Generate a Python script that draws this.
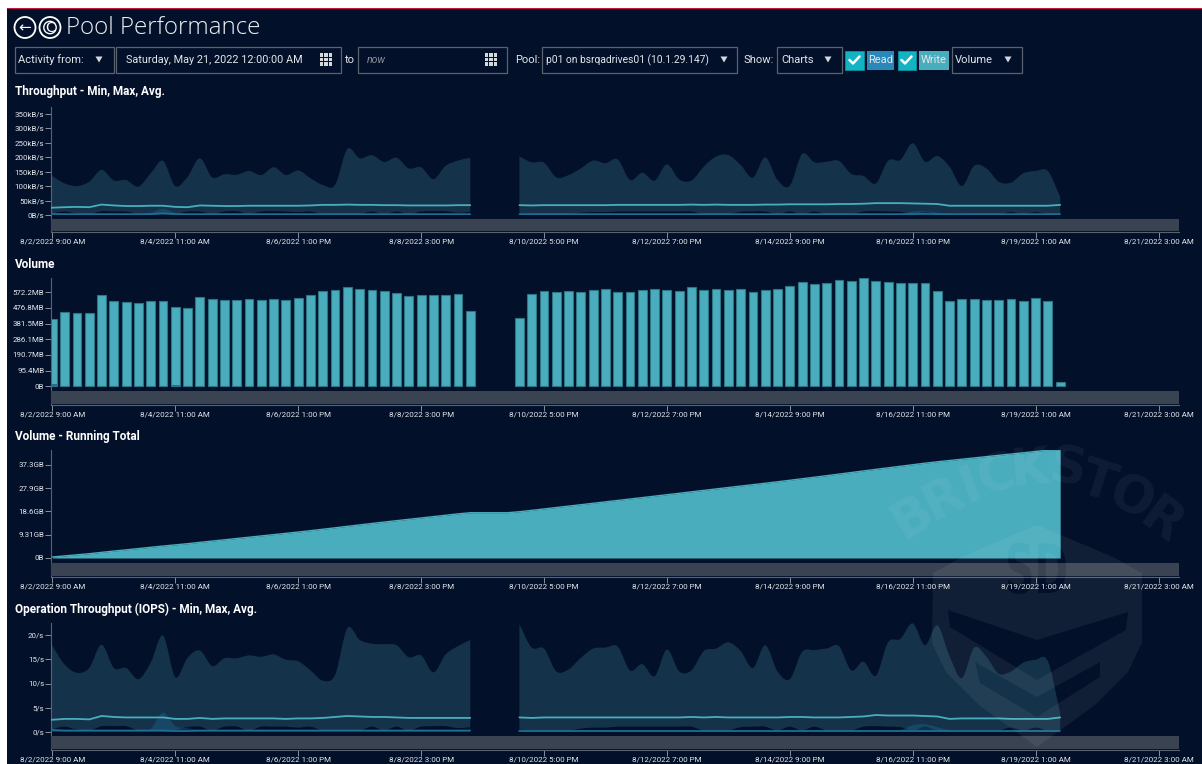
import numpy as np, pandas as pd, matplotlib
matplotlib.use("Agg")
import matplotlib.pyplot as plt, seaborn as sns
from matplotlib.path import Path
from matplotlib.patches import PathPatch, Rectangle, Circle, Polygon
from matplotlib.textpath import TextPath
from matplotlib.font_manager import FontProperties
from matplotlib.transforms import Affine2D

tick_labels = ["8/2/2022 9:00 AM","8/4/2022 11:00 AM","8/6/2022 1:00 PM","8/8/2022 3:00 PM","8/10/2022 5:00 PM",
               "8/12/2022 7:00 PM","8/14/2022 9:00 PM","8/16/2022 11:00 PM","8/19/2022 1:00 AM","8/21/2022 3:00 AM"]
tick_hours = [0,50,100,150,200,250,300,350,400,450]
sample_left = list(range(0,35))
sample_right = list(range(38,83))
hours_per_sample = 5

tp_max_left = [138,109,100,115,156,119,121,98,144,187,100,132,196,130,141,139,152,138,165,138,154,127,104,104,228,196,207,183,198,161,165,124,170,188,198]
tp_max_right = [202,182,181,130,138,161,188,179,192,121,146,119,175,123,119,167,202,207,173,129,199,121,101,211,182,184,187,142,135,109,188,190,248,184,204,167,100,170,161,115,112,144,152,152,63]
tp_avg_left = [25,27,28,27,36,33,31,31,32,32,28,27,33,32,31,31,32,32,32,32,32,33,35,35,36,35,35,34,34,33,33,33,33,34,34]
tp_avg_right = [34,33,34,34,34,34,34,34,35,35,35,35,35,35,36,35,36,35,35,35,36,36,37,37,37,37,38,38,39,41,41,41,40,39,38,32,32,32,32,32,32,32,32,32,35]
tp_min_left = [6,12,5,3,13,12,12,4,3,3,4,12,12,4,12,13,4,12,13,12,10,12,3,3,3,3,12,3,12,3,12,13,13,8,11]
tp_min_right = [6,3,3,3,3,8,10,10,12,12,12,12,12,12,12,3,3,3,11,12,12,3,12,3,12,3,3,3,12,13,12,11,3,12,3,3,3,3,3,3,10,3,10,3,3]
tp_read_max_left = [10,4,4,4,4,4,4,4,8,22,8,4,4,4,4,4,4,4,4,4,4,4,4,4,4,4,4,4,4,4,4,4,4,4,4]
tp_read_max_right = [4,4,4,4,4,4,4,4,4,4,4,4,4,4,4,4,4,4,4,4,4,4,4,4,4,4,4,4,4,4,4,4,12,14,8,4,4,4,4,4,4,4,4,4,4]
tp_read_avg_left = [4,3,3,3,3,3,3,3,3,6,3,3,3,3,3,3,3,3,3,3,3,3,3,3,3,3,3,3,3,3,3,3,3,3,3]
tp_read_avg_right = [3,3,3,3,3,3,3,3,3,3,3,3,3,3,3,3,3,3,3,3,3,3,3,3,3,3,3,3,3,3,3,3,3,4,3,3,3,3,3,3,3,3,3,3,3]

volume_left = [410,452,448,448,554,521,513,507,521,517,481,477,544,532,525,525,532,525,530,525,540,554,580,586,603,594,586,580,566,550,554,558,558,562,459]
volume_right = [414,562,580,576,580,572,586,590,576,576,586,590,586,580,603,586,594,586,590,576,586,590,613,635,621,631,649,639,657,639,635,631,631,631,580,517,530,530,525,525,530,521,536,521,26]
volume_read_left = [14,1,1,1,1,1,1,1,1,1,5,3,1,1,1,1,1,1,1,1,1,1,1,1,1,1,1,1,1,1,1,1,1,1,1]

iops_max_left = [18.4,13.9,12.2,13.2,18,13.2,13.2,10.9,14.3,19.9,11.3,15.3,16.8,13.6,15.2,15.2,15.8,15.5,16,14.9,14.6,12.7,10.6,11.8,21.4,19,18.2,18.1,17.9,15.4,15.8,12.3,16,17.7,19]
iops_max_right = [22.2,17.4,17.2,12.5,12.9,15.3,17.2,17.4,17.6,12.7,14,11.5,17,12.5,12.7,16.7,17.2,18.5,16.7,13.2,17.9,12.5,10.9,16.5,16.9,17.2,17.7,12.7,14.5,11.6,18.5,19.2,22.4,17.9,22,15.6,11.1,17.4,15.5,12,12.5,14.3,14.9,14.6,3.9]
iops_avg_left = [2.5,2.7,2.7,2.6,3.3,3.1,3.0,3.0,3.0,3.0,2.7,2.7,2.9,2.7,2.8,2.8,2.8,2.8,2.8,2.7,2.8,2.8,2.9,3.1,3.3,3.2,3.1,3.1,3.0,2.9,2.9,2.9,2.9,2.9,2.9]
iops_avg_right = [3.0,2.9,3.0,3.0,3.0,3.0,3.0,3.0,3.0,3.0,3.0,3.0,3.0,3.0,3.1,3.0,3.1,3.0,3.0,3.0,3.0,3.0,3.1,3.1,3.0,3.0,3.0,3.1,3.2,3.5,3.4,3.4,3.4,3.3,3.2,2.7,2.8,2.8,2.8,2.8,2.7,2.7,2.7,2.7,3.0]
iops_min_left = [0.5,1.1,0.5,0.3,1.2,1.2,1.2,0.3,0.2,0.3,0.4,1.0,1.1,0.3,1.1,1.1,0.3,1.1,1.1,1.1,0.9,1.1,0.3,0.3,0.3,0.3,1.1,0.3,1.1,0.3,1.1,1.2,1.2,0.8,1.0]
iops_min_right = [0.5,0.3,0.3,0.3,0.3,0.7,0.9,0.9,1.1,1.1,1.1,1.1,1.1,1.1,1.1,0.3,0.3,0.3,1.0,1.1,1.1,0.3,1.1,0.3,1.1,0.3,0.3,0.3,1.1,1.2,1.1,1.0,0.3,1.1,0.3,0.3,0.3,0.3,0.3,0.3,0.9,0.3,0.9,0.3,0.3]
iops_read_max_left = [0.8,0.4,0.4,0.4,0.4,0.4,0.4,0.4,0.6,4.0,1.2,0.8,0.4,0.4,0.4,0.4,0.4,0.4,0.4,0.4,0.4,0.4,0.4,0.4,0.4,0.4,0.4,0.4,0.4,0.4,0.4,0.4,0.4,0.4,0.4]
iops_read_max_right = [0.4,0.4,0.4,0.4,0.4,0.4,0.4,0.4,0.4,0.4,0.4,0.4,0.4,0.4,0.4,0.4,0.4,0.4,0.4,0.4,0.4,0.4,0.4,0.4,0.4,0.4,0.4,0.4,0.4,0.4,0.4,0.4,1.4,1.6,1.0,0.4,0.4,0.4,0.4,0.4,0.4,0.4,0.4,0.4,0.4]
iops_read_avg_left = [0.4,0.3,0.3,0.3,0.3,0.3,0.3,0.3,0.3,0.3,0.2,0.2,0.3,0.3,0.3,0.3,0.3,0.3,0.3,0.3,0.3,0.3,0.3,0.3,0.3,0.3,0.3,0.3,0.3,0.3,0.3,0.3,0.3,0.3,0.3]
iops_read_avg_right = [0.3]*45

y_ticks_tp = [0,50,100,150,200,250,300,350]
y_labels_tp = ["0B/s","50kB/s","100kB/s","150kB/s","200kB/s","250kB/s","300kB/s","350kB/s"]
y_ticks_vol = [0,95.4,190.7,286.1,381.5,476.8,572.2]
y_labels_vol = ["0B","95.4MB","190.7MB","286.1MB","381.5MB","476.8MB","572.2MB"]
y_ticks_tot = [0,9.31,18.6,27.9,37.3]
y_labels_tot = ["0B","9.31GB","18.6GB","27.9GB","37.3GB"]
y_ticks_iops = [0,5,10,15,20]
y_labels_iops = ["0/s","5/s","10/s","15/s","20/s"]

BG="#02102a"; TEAL="#4aadbd"; BAND="#14334a"; READ="#1f6f96"; NAV="#3a4352"; TXT="#e4e7eb"; BOX="#5a6270"
W,H=1202,764
sns.set_theme(style="dark", rc={"axes.facecolor":"none","figure.facecolor":BG,"savefig.facecolor":BG})
plt.rcParams["font.family"]=["Roboto","DejaVu Sans"]
fig=plt.figure(figsize=(W/100,H/100),dpi=100)

X0,X1=50.5,1178.5
PX_H=2.458
xlim=((X0-52.4)/PX_H,(X1-52.4)/PX_H)

def make_axes(top,bottom,zero,px_per_unit,ticks,labels):
    ax=fig.add_axes([X0/W,1-bottom/H,(X1-X0)/W,(bottom-top)/H],zorder=1)
    ax.set_xlim(*xlim)
    ax.set_ylim((zero-bottom)/px_per_unit,(zero-top)/px_per_unit)
    return ax

def finish(ax,ticks,labels):
    ax.set_xlim(*xlim)
    ax.set_xticks(tick_hours); ax.set_xticklabels(tick_labels)
    ax.set_yticks(ticks); ax.set_yticklabels(labels)
    ax.set_xlabel(""); ax.set_ylabel(""); ax.grid(False)
    for s in ("top","right"): ax.spines[s].set_visible(False)
    ax.spines["left"].set_color("#5a6270"); ax.spines["left"].set_linewidth(.8)
    ax.spines["bottom"].set_color("#5a6270"); ax.spines["bottom"].set_linewidth(.8)
    ax.tick_params(axis="x",length=4,width=.7,color="#8a909a",labelsize=5.8,labelcolor=TXT,pad=.8,bottom=True)
    ax.tick_params(axis="y",length=4,width=.7,color="#8a909a",labelsize=5.7,labelcolor=TXT,pad=0.5,left=True)

def curve(x,y):
    x=np.asarray(x,float); y=np.asarray(y,float); n=len(x)
    m=np.gradient(y,x)
    v=[];
    for i in range(n-1):
        d=(x[i+1]-x[i])/3
        v+= [(x[i]+d,y[i]+m[i]*d),(x[i+1]-d,y[i+1]-m[i+1]*d),(x[i+1],y[i+1])]
    return v

def band(ax,x,upper,lower,**kw):
    up=curve(x,upper); lo=curve(x[::-1],lower[::-1])
    verts=[(x[0],upper[0])]+up+[(x[-1],lower[-1])]+lo+[(x[0],lower[0])]
    codes=[Path.MOVETO]+[Path.CURVE4]*len(up)+[Path.LINETO]+[Path.CURVE4]*len(lo)+[Path.LINETO]
    ax.add_patch(PathPatch(Path(verts,codes),lw=0,**kw))

def area_x(samples):
    xs=[s*hours_per_sample for s in samples]
    if xs[0]==0: xs[0]=xlim[0]
    return xs

def perf_chart(ax,mx,mn,avg,rmax,ravg,ticks,labels):
    for k,s in enumerate((sample_left,sample_right)):
        xs=area_x(s)
        band(ax,xs,mx[k],mn[k],facecolor=BAND,zorder=2)
        band(ax,xs,rmax[k],[0]*len(xs),facecolor="#1f6f96",alpha=.35,zorder=3)
    rows=[]
    for k,s in enumerate((sample_left,sample_right)):
        xs=area_x(s)
        rows.append(pd.DataFrame({"hour":xs,"avg":avg[k],"read":ravg[k],"seg":k}))
    df=pd.concat(rows)
    sns.lineplot(data=df,x="hour",y="read",units="seg",estimator=None,color=READ,lw=1.2,ax=ax,zorder=4)
    sns.lineplot(data=df,x="hour",y="avg",units="seg",estimator=None,color=TEAL,lw=1.3,ax=ax,zorder=5)
    finish(ax,ticks,labels)

# Throughput
ax1=make_axes(107,232,215,14.47/50,y_ticks_tp,y_labels_tp)
yl=ax1.get_ylim()
perf_chart(ax1,(tp_max_left,tp_max_right),(tp_min_left,tp_min_right),(tp_avg_left,tp_avg_right),
           (tp_read_max_left,tp_read_max_right),(tp_read_avg_left,tp_read_avg_right),y_ticks_tp,y_labels_tp)
ax1.set_ylim(*yl)

# Volume
ax2=make_axes(278,404.5,386.3,15.67/95.37,y_ticks_vol,y_labels_vol)
yl=ax2.get_ylim()
bar_hours=[s*hours_per_sample for s in sample_left+sample_right]
vol=volume_left+volume_right
sns.barplot(x=bar_hours,y=vol,native_scale=True,width=.72,color=TEAL,saturation=1,edgecolor="#2c7585",linewidth=.8,ax=ax2)
read_vol=volume_read_left+[1]*len(volume_right)
sns.barplot(x=bar_hours,y=read_vol,native_scale=True,width=.72,color=READ,saturation=1,linewidth=0,ax=ax2)
finish(ax2,y_ticks_vol,y_labels_vol); ax2.set_ylim(*yl)

# Running total
ax3=make_axes(450,577,558,23.3/9.31,y_ticks_tot,y_labels_tot)
yl=ax3.get_ylim()
all_s=list(range(0,83))
per_sample=dict(zip(sample_left+sample_right,vol))
tot=np.cumsum([per_sample.get(s,0) for s in all_s])/1024
all_h=[s*hours_per_sample for s in all_s]
ax3.fill_between(all_h,0,tot,color=TEAL,lw=0,zorder=2)
sns.lineplot(x=all_h,y=tot,color=TEAL,lw=1,ax=ax3,zorder=3)
finish(ax3,y_ticks_tot,y_labels_tot); ax3.set_ylim(*yl)

# IOPS
ax4=make_axes(623,749.5,732,4.85,y_ticks_iops,y_labels_iops)
yl=ax4.get_ylim()
perf_chart(ax4,(iops_max_left,iops_max_right),(iops_min_left,iops_min_right),(iops_avg_left,iops_avg_right),
           (iops_read_max_left,iops_read_max_right),(iops_read_avg_left,iops_read_avg_right),y_ticks_iops,y_labels_iops)
ax4.set_ylim(*yl)

# page overlay in pixel coordinates
ui=fig.add_axes([0,0,1,1],zorder=10); ui.set_xlim(0,W); ui.set_ylim(H,0); ui.axis("off"); ui.patch.set_alpha(0)
for top,bot in ((218.7,231),(391,404),(563,576),(736,749)):
    ui.add_patch(Rectangle((X0,top),X1-X0,bot-top,fc=NAV,ec="none",zorder=2))
ui.add_patch(Rectangle((0,0),W,8,fc="white",ec="none",zorder=20))
ui.add_patch(Rectangle((0,8),W,1.2,fc="#c2153f",ec="none",zorder=20))
ui.add_patch(Rectangle((0,0),7,H,fc="white",ec="none",zorder=20))

def T(x,y,s,size=8.0,color=TXT,ha="left",**kw):
    ui.text(x,y+.5,s,fontsize=size,color=color,ha=ha,va="center",zorder=6,**kw)
def box(x0,x1,y0=47,y1=72.5):
    ui.add_patch(Rectangle((x0,y0),x1-x0,y1-y0,fc="none",ec=BOX,lw=.9,zorder=5))
def arrow(x,y=59.5):
    ui.add_patch(Polygon([(x-3.5,y-3),(x+3.5,y-3),(x,y+3)],fc="#d5d8dd",ec="none",zorder=6))
def grid_icon(cx,cy=59.5):
    for a in (-4.5,0,4.5):
        for b in (-4.5,0,4.5):
            ui.add_patch(Rectangle((cx+a-1.7,cy+b-1.7),3.4,3.4,fc="#d5d8dd",ec="none",zorder=6))
def check(x0,x1,y0=50.5,y1=69.5):
    ui.add_patch(Rectangle((x0,y0),x1-x0,y1-y0,fc="#12b3c2",ec="#0e8f9c",lw=.6,zorder=5))
    cx=(x0+x1)/2; cy=(y0+y1)/2
    ui.plot([cx-5,cx-1.5,cx+5],[cy,cy+3.5,cy-3.5],color="white",lw=1.8,zorder=6)

for cx in (25,50):
    ui.add_patch(Circle((cx,27.5),10.5,fc="none",ec="white",lw=1.3,zorder=6))
T(25,27,"\u2190",size=11,color="white",ha="center",family="DejaVu Sans")
T(50,27,"C",size=10,color="white",ha="center",family="DejaVu Sans")
ui.add_patch(Circle((50,27.5),6.2,fc="none",ec="white",lw=1,zorder=6))
T(66,28,"Pool Performance",size=17.4,color="#eef0f3",family="Open Sans",fontweight="light")

box(14.5,113.5); T(18,59.5,"Activity from:"); arrow(99)
box(116,341); T(126,59.5,"Saturday, May 21, 2022 12:00:00 AM",size=7.8); grid_icon(326)
T(345,59.5,"to")
box(358,507); T(367,59.5,"now",size=7.6,color="#8a909a",style="italic"); grid_icon(491)
T(515,59.5,"Pool:")
box(541.5,737); T(546,59.5,"p01 on bsrqadrives01 (10.1.29.147)",size=7.4); arrow(724)
T(744,59.5,"Show:")
box(776.5,842); T(781,59.5,"Charts"); arrow(828)
check(845,864)
ui.add_patch(Rectangle((867,50.5),27,19,fc="#2a88b8",ec="none",zorder=5)); T(880.5,59.5,"Read",ha="center")
check(897.5,915.5)
ui.add_patch(Rectangle((919,50.5),30,19,fc=TEAL,ec="none",zorder=5)); T(934,59.5,"Write",ha="center")
box(952,1022); T(955,59.5,"Volume"); arrow(1008)

for y,s in ((90.5,"Throughput - Min, Max, Avg."),(263.5,"Volume"),(436,"Volume - Running Total"),(608.5,"Operation Throughput (IOPS) - Min, Max, Avg.")):
    T(15,y,s,size=8.5,color="white",fontweight="bold")

# watermark
shield=[(1037,525),(1113,557),(1142,573),(1142,643),(1128,672),(1095,705),(1037,747),(979,705),(946,672),(932,643),(933,573),(962,557)]
chev1=[(948,610),(950,627),(1037,680),(1126,630),(1128,612),(1037,640)]
chev2=[(975,662),(980,683),(1037,717),(1100,677),(1100,662),(1037,697)]
fp=FontProperties(family="DejaVu Sans",weight="bold")
sd=TextPath((0,0),"SD",size=68,prop=fp)
sd=sd.transformed(Affine2D().scale(.6,-1).translate(1005,593))
polys=[p[::-1] for p in sd.to_polygons()]
paths=[Path(np.array(shield+[shield[0]]),closed=True),Path(np.array(chev1+[chev1[0]]),closed=True),Path(np.array(chev2+[chev2[0]]),closed=True)]
paths+=[Path(p,closed=True) for p in polys]
ui.add_patch(PathPatch(Path.make_compound_path(*paths),fc="white",ec="none",alpha=.06,zorder=15))
letters=[("B",912,518,32),("R",943,500,27),("I",970,487,20),("C",997,477,13),("K",1030,470,5),("S",1067,470,-10),("T",1098,483,-18),("O",1130,500,-26),("R",1160,522,-36)]
for ch,x,y,r in letters:
    ui.text(x,y,ch,fontsize=37,color="white",alpha=.05,ha="center",va="center",rotation=r,fontweight="bold",family="DejaVu Sans",zorder=15)

fig.savefig("out.png",dpi=100)
